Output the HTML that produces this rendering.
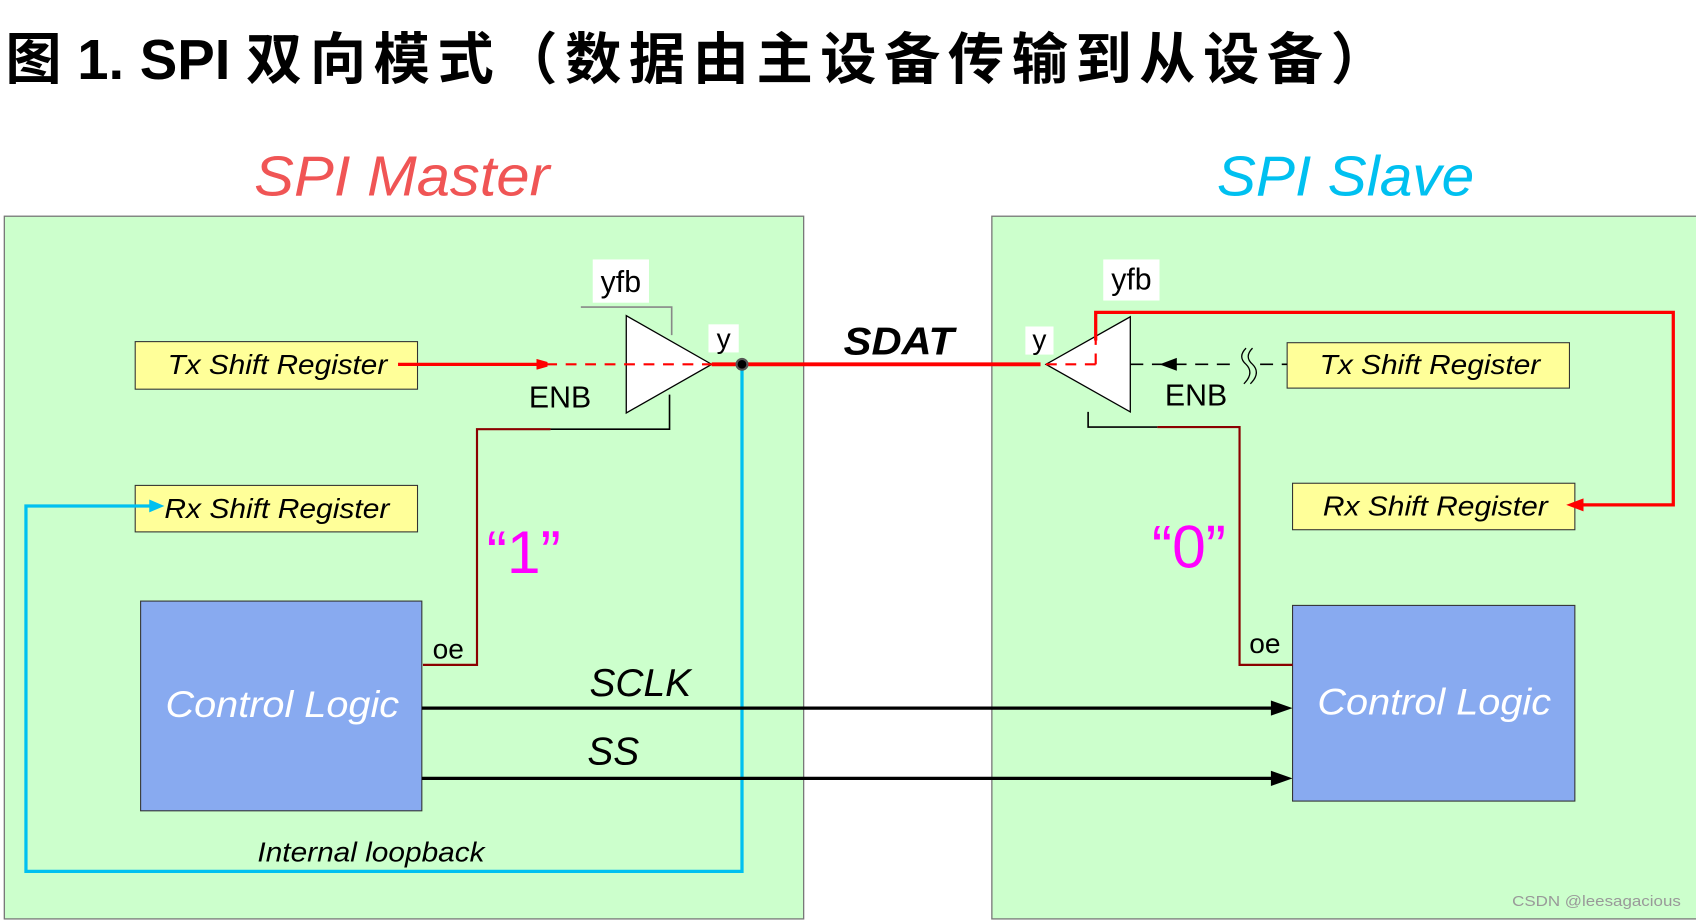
<!DOCTYPE html>
<html><head><meta charset="utf-8"><style>
html,body{margin:0;padding:0;background:#fff;}
svg{display:block;}
text{font-family:"Liberation Sans","Noto Sans CJK SC",sans-serif;}
</style></head><body>
<svg width="1696" height="920" viewBox="0 0 1568 851" preserveAspectRatio="none" xmlns="http://www.w3.org/2000/svg">
<defs>
<marker id="ar" markerWidth="10" markerHeight="10" refX="9" refY="5" orient="auto" markerUnits="userSpaceOnUse"><path d="M0,0 L18,5 L0,10z" fill="red"/></marker>
</defs>
<text x="5" y="73" font-size="52" font-weight="bold" fill="#000">图 1. SPI <tspan font-weight="bold" letter-spacing="7">双向模式（数据由主设备传输到从设备）</tspan></text>
<text x="235" y="181" font-size="52" font-style="italic" fill="#f05555" textLength="273" lengthAdjust="spacingAndGlyphs">SPI Master</text>
<text x="1125" y="181" font-size="52" font-style="italic" fill="#00c0f0" textLength="238" lengthAdjust="spacingAndGlyphs">SPI Slave</text>

<rect x="4" y="200" width="739" height="650" fill="#ccffcc" stroke="#777" stroke-width="1.2"/>
<rect x="917" y="200" width="660" height="650" fill="#ccffcc" stroke="#777" stroke-width="1.2"/>

<rect x="125" y="316" width="261" height="44" fill="#ffff99" stroke="#333"/>
<text x="155" y="346" font-size="26" font-style="italic" textLength="203" lengthAdjust="spacingAndGlyphs">Tx Shift Register</text>
<rect x="125" y="449" width="261" height="43" fill="#ffff99" stroke="#333"/>
<text x="152" y="479" font-size="26" font-style="italic" textLength="208" lengthAdjust="spacingAndGlyphs">Rx Shift Register</text>
<rect x="130" y="556" width="260" height="194" fill="#88aaf0" stroke="#333"/>
<text x="153" y="663" font-size="34" font-style="italic" fill="#fff" textLength="216" lengthAdjust="spacingAndGlyphs">Control Logic</text>

<polyline points="537,284 621,284 621,310" fill="none" stroke="#888" stroke-width="1.5"/>
<rect x="548" y="240" width="52" height="40" fill="#fff"/>
<text x="574" y="270" font-size="28" text-anchor="middle">yfb</text>
<polyline points="619,365 619,397 509,397" fill="none" stroke="#000" stroke-width="1.5"/>
<polyline points="509,397 441,397 441,615 391,615" fill="none" stroke="#8b0000" stroke-width="2"/>
<polygon points="579,292 579,382 658,337" fill="#fff" stroke="#000" stroke-width="1.2"/>
<text x="489" y="377" font-size="28">ENB</text>
<rect x="655" y="300" width="28" height="26" fill="#fff"/>
<text x="669" y="322" font-size="26" text-anchor="middle">y</text>
<line x1="368" y1="337" x2="505" y2="337" stroke="red" stroke-width="3" marker-end="url(#ar)"/>
<line x1="505" y1="337" x2="658" y2="337" stroke="red" stroke-width="2" stroke-dasharray="10,8"/>
<line x1="658" y1="337" x2="962" y2="337" stroke="red" stroke-width="3.5"/>
<polyline points="686,337 686,806 24,806 24,468 140,468" fill="none" stroke="#00c0f0" stroke-width="3"/>
<path d="M138,462 L152,468 L138,474z" fill="#00c0f0"/>
<circle cx="686" cy="337" r="5" fill="#000" stroke="#555" stroke-width="2"/>
<text x="238" y="797" font-size="26" font-style="italic" textLength="210" lengthAdjust="spacingAndGlyphs">Internal loopback</text>
<text x="450" y="530" font-size="56" fill="#ff00ff">“1”</text>
<rect x="398" y="587" width="40" height="26" fill="#ccffcc"/>
<text x="400" y="609" font-size="26">oe</text>

<line x1="390" y1="655" x2="1180" y2="655" stroke="#000" stroke-width="3"/>
<path d="M1175,648 L1195,655 L1175,662z" fill="#000"/>
<line x1="390" y1="720" x2="1180" y2="720" stroke="#000" stroke-width="3"/>
<path d="M1175,713 L1195,720 L1175,727z" fill="#000"/>
<text x="545" y="644" font-size="36" font-style="italic">SCLK</text>
<text x="543" y="707" font-size="36" font-style="italic">SS</text>
<text x="780" y="328" font-size="36" font-style="italic" font-weight="bold" textLength="102" lengthAdjust="spacingAndGlyphs">SDAT</text>

<rect x="1190" y="317" width="261" height="42" fill="#ffff99" stroke="#333"/>
<text x="1220" y="346" font-size="26" font-style="italic" textLength="204" lengthAdjust="spacingAndGlyphs">Tx Shift Register</text>
<rect x="1195" y="447" width="261" height="43" fill="#ffff99" stroke="#333"/>
<text x="1223" y="477" font-size="26" font-style="italic" textLength="208" lengthAdjust="spacingAndGlyphs">Rx Shift Register</text>
<rect x="1195" y="560" width="261" height="181" fill="#88aaf0" stroke="#333"/>
<text x="1218" y="661" font-size="34" font-style="italic" fill="#fff" textLength="216" lengthAdjust="spacingAndGlyphs">Control Logic</text>
<rect x="1020" y="240" width="52" height="38" fill="#fff"/>
<text x="1046" y="268" font-size="28" text-anchor="middle">yfb</text>
<polyline points="1006,381 1006,395 1070,395" fill="none" stroke="#000" stroke-width="1.5"/>
<polyline points="1070,395 1146,395 1146,615 1195,615" fill="none" stroke="#8b0000" stroke-width="2"/>
<line x1="1045" y1="337" x2="1190" y2="337" stroke="#000" stroke-width="1.5" stroke-dasharray="12,8"/>
<rect x="1140" y="320" width="22" height="35" fill="#ccffcc"/>
<path d="M1152,322 q-8,8 0,15 q8,8 -2,18 M1158,322 q-8,8 0,15 q8,8 -2,18" fill="none" stroke="#000" stroke-width="1.2"/>
<path d="M1072,337 L1088,331 L1088,343z" fill="#000"/>
<polygon points="1045,293 1045,381 967,337" fill="#fff" stroke="#000" stroke-width="1.2"/>
<line x1="967" y1="337" x2="1013" y2="337" stroke="red" stroke-width="2" stroke-dasharray="10,8"/>
<line x1="1013" y1="337" x2="1013" y2="315" stroke="red" stroke-width="2" stroke-dasharray="10,8"/>
<polyline points="1013,315 1013,289 1547,289 1547,467 1462,467" fill="none" stroke="red" stroke-width="3"/>
<path d="M1464,461 L1448,467 L1464,473z" fill="red"/>
<rect x="948" y="302" width="26" height="26" fill="#fff"/>
<text x="961" y="323" font-size="26" text-anchor="middle">y</text>
<text x="1077" y="375" font-size="28">ENB</text>
<text x="1065" y="525" font-size="56" fill="#ff00ff">“0”</text>
<rect x="1153" y="582" width="40" height="26" fill="#ccffcc"/>
<text x="1155" y="604" font-size="26">oe</text>
<text x="1398" y="838" font-size="14" fill="#999" textLength="156" lengthAdjust="spacingAndGlyphs">CSDN @leesagacious</text>
</svg>
</body></html>
